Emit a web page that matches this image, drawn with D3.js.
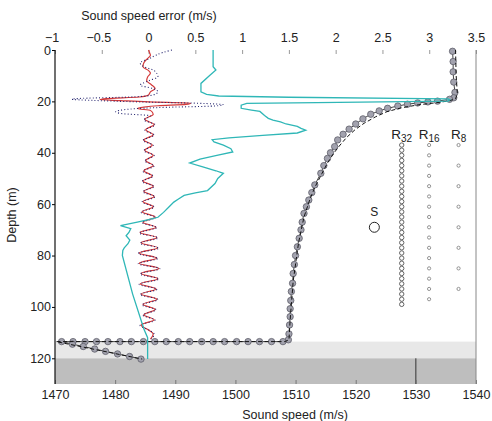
<!doctype html>
<html lang="en">
<head>
  <meta charset="UTF-8">
  <title>Sound speed profile</title>
  <script src="https://cdn.jsdelivr.net/npm/d3@7"></script>
  <style>
    body { margin: 0; background: #fff; }
    svg { font-family: "Liberation Sans", Arial, sans-serif; }
    .tick text { font-size: 12.5px; fill: #222; }
  </style>
</head>
<body>
<div id="chart"></div>
<script>
  // axis ticks
  var speedTicks = [1470, 1480, 1490, 1500, 1510, 1520, 1530, 1540];
  var errTicks   = [-1, -0.5, 0, 0.5, 1, 1.5, 2, 2.5, 3, 3.5];
  var depthTicks = [0, 20, 40, 60, 80, 100, 120];

  // layers (depth, m)
  var sedimentTop = 113.5, basementTop = 120, maxDepth = 130;
  var basementSpeed = 1530;

  // estimated profile [depth, speed] (circles)
  var estProfile = [
    [0.5,1536.1],[4.5,1536.2],[8.5,1536.2],[12.5,1536.3],[16.5,1536.5],[18.6,1536.3],
    [19.2,1535.6],[19.9,1533.6],[20.2,1532.0],[20.6,1530.3],[21.1,1528.6],[21.8,1527.0],
    [22.7,1525.3],[23.7,1523.9],[25.0,1522.5],[26.8,1521.2],[28.8,1520.0],[30.8,1518.9],
    [32.8,1517.9],[35.0,1517.0],[37.6,1516.5],[40.0,1515.8],[42.2,1515.3],[45.0,1514.7],
    [48.0,1514.2],[52.5,1513.2],[55.5,1512.7],[58.4,1512.2],[61.0,1511.8],[63.6,1511.4],
    [67.0,1511.1],[70.0,1510.9],[73.3,1510.6],[76.6,1510.3],[80.0,1510.0],[83.5,1509.8],
    [87.0,1509.6],[90.8,1509.5],[94.0,1509.3],[97.5,1509.2],[100.7,1509.1],[103.8,1509.1],
    [107.0,1509.0],[110.5,1508.9],[112.8,1508.8],
    [113.5,1507.9],[113.5,1506.0],[113.5,1504.0],[113.5,1502.1],[113.5,1500.2],[113.5,1498.2],
    [113.5,1496.3],[113.5,1494.4],[113.5,1492.4],[113.5,1490.5],[113.5,1488.5],[113.5,1486.6],
    [113.5,1484.7],[113.5,1482.7],[113.5,1480.8],[113.5,1478.8],[113.5,1476.9],[113.5,1475.0],
    [113.5,1473.0],[113.5,1471.1],
    [114.5,1472.9],[115.4,1474.7],[116.4,1476.6],[117.3,1478.4],[118.3,1480.4],[119.3,1482.4],
    [120.3,1484.3]
  ];

  // true profile [depth, speed] (dashed)
  var trueProfile = [
    [0,1536.6],[10,1536.7],[17,1536.9],[19,1536.6],[19.8,1535.5],[20.5,1533.5],[21.3,1530.5],
    [22.5,1527.6],[24,1525.2],[26,1523.3],[28.5,1521.4],[31,1519.9],[34,1518.5],[37,1517.4],
    [40,1516.4],[44,1515.3],[48,1514.4],[53,1513.3],[58,1512.4],[65,1511.4],[75,1510.5],
    [90,1509.6],[105,1509.1],[112.8,1508.9],[113.5,1508.2],[113.5,1470.2],[120.3,1484.5]
  ];

  // cyan curve [depth, value on error axis]
  var cyanCurve = [
    [0,0.69],[6.5,0.69],[7.8,0.72],[10,0.65],[13,0.56],[16.3,0.56],[17.3,0.62],[17.9,0.75],
    [18.4,1.5],[19.0,3.2],[19.4,3.22],[19.9,3.2],[20.5,1.8],[20.8,1.05],[21.5,0.99],[22.7,0.99],
    [23.4,1.1],[23.9,1.19],[25.5,1.24],[26.6,1.28],[27.3,1.33],[28,1.41],[28.8,1.47],[29.7,1.59],
    [30.5,1.63],[31.2,1.68],[32.3,1.59],[33.2,1.22],[34.2,0.86],[34.9,0.68],[35.8,0.70],[37,0.80],
    [38.4,0.88],[39.7,0.90],[41,0.73],[42.5,0.55],[44,0.44],[45.5,0.58],[47,0.72],[48,0.80],
    [50,0.74],[52,0.71],[54.7,0.63],[55.6,0.50],[56.6,0.38],[58,0.32],[59.2,0.27],[61,0.22],
    [63.2,0.16],[65.1,0.10],[66,0.0],[67,-0.12],[68.4,-0.30],[69.5,-0.19],[71,-0.21],[72.3,-0.24],
    [74,-0.20],[75.4,-0.22],[77,-0.26],[78,-0.275],[80,-0.28],[95,-0.17],[108.6,-0.05],
    [112,-0.01],[120.3,-0.01]
  ];

  // red error curve [depth, error]
  var redErr = [
    [0,0.0],[1,0.01],[2,0.02],[3,0.0],[4,-0.03],[5,-0.05],[6.5,-0.06],[8,0.0],[9,0.02],
    [10.5,-0.01],[12,-0.02],[13.5,0.03],[15,0.07],[16.3,0.02],[17.5,0.0],[18.3,-0.1],
    [18.9,-0.45],[19.3,-0.52],[19.7,-0.3],[20.2,0.0],[20.7,0.45],[21.2,0.4],[21.7,0.1],
    [22.2,-0.05],[22.8,-0.12],[23.5,0.02],[25,0.05],[27,-0.04],[29,0.06],[31,-0.03],
    [33,0.05],[35,-0.05],[37,0.04],[39,-0.04],[41,0.05],[43,-0.03],[45,0.05],[47,-0.05],
    [49,0.04],[51,-0.06],[53,0.05],[55,-0.05],[57,0.06],[59,-0.06],[61,0.05],[63,-0.07],
    [65,0.07],[67,-0.06],[69,0.08],[71,-0.09],[73,0.09],[75,-0.08],[77,0.1],[79,-0.1],
    [81,0.09],[83,-0.1],[85,0.11],[87,-0.08],[89,0.1],[91,-0.09],[93,0.08],[95,-0.08],
    [97,0.09],[99,-0.06],[101,0.07],[103,-0.05],[105,0.06],[107,-0.08],[109,0.0],
    [110.5,0.05],[112.5,0.02]
  ];

  // blue dotted error curve [depth, error]
  var blueErr = [
    [0,0.25],[1,0.15],[2,0.08],[3.5,0.0],[5,-0.09],[6.5,-0.05],[8,0.06],[10.4,0.1],[12,0.0],
    [13.7,-0.09],[15,0.05],[16.3,0.1],[17.5,0.05],[18.3,-0.2],[18.8,-0.7],[19.2,-0.82],
    [19.6,-0.6],[20.2,-0.1],[20.7,0.5],[21.3,0.8],[21.8,0.7],[22.3,0.2],[23,-0.2],[24,-0.35],
    [24.7,-0.3],[25.6,0.02],[27.2,-0.05],[29.1,0.07],[31.2,-0.04],[33.1,0.06],[35.2,-0.06],
    [37.1,0.05],[39.2,-0.05],[41.1,0.06],[43.2,-0.04],[45.1,0.06],[47.2,-0.06],[49.1,0.05],
    [51.2,-0.07],[53.1,0.06],[55.2,-0.06],[57.1,0.07],[59.2,-0.07],[61.1,0.06],[63.2,-0.08],
    [65.1,0.08],[67.2,-0.07],[69.1,0.09],[71.2,-0.1],[73.1,0.1],[75.2,-0.09],[77.1,0.11],
    [79.2,-0.11],[81.1,0.1],[83.2,-0.11],[85.1,0.12],[87.2,-0.09],[89.1,0.11],[91.2,-0.1],
    [93.1,0.09],[95.2,-0.09],[97.1,0.1],[99.2,-0.07],[101.1,0.08],[103.2,-0.06],[105.1,0.07],
    [107.2,-0.09],[109.1,0.01],[110.6,0.06],[112.5,0.03]
  ];

  // receiver arrays: depths (m)
  var r32Depths = [37,39,41,43,45,47,49,51,53,55,57,59,61,63,65,67,69,71,73,75,77,79,81,83,85,87,89,91,93,95,97,99];
  var r16Depths = [37,41,45,49,53,57,61,65,69,73,77,81,85,89,93,97];
  var r8Depths  = [37,45,53,61,69,77,85,93];
  var arrays = [
    {name: "R", sub: "32", speed: 1527.65, depths: r32Depths},
    {name: "R", sub: "16", speed: 1532.2,  depths: r16Depths},
    {name: "R", sub: "8",  speed: 1537.1,  depths: r8Depths}
  ];
  var source = {label: "S", speed: 1523.1, depth: 69.0, labelDepth: 62.8};

  var width = 492, height = 421;
  var plotL = 55, plotR = 476, plotT = 50, plotB = 384;

  var xSpeed = d3.scaleLinear().domain([1470, 1540]).range([plotL, plotR]);
  var xErr   = d3.scaleLinear().domain([-1, 3.5]).range([plotL, plotR]);
  var y      = d3.scaleLinear().domain([0, maxDepth]).range([plotT, plotB]);

  var svg = d3.select("#chart").append("svg")
      .attr("width", width)
      .attr("height", height);

  // seabed layers
  svg.append("rect")
      .attr("x", plotL).attr("width", plotR - plotL)
      .attr("y", y(sedimentTop)).attr("height", y(basementTop) - y(sedimentTop))
      .attr("fill", "#e8e8e8");
  svg.append("rect")
      .attr("x", plotL).attr("width", plotR - plotL)
      .attr("y", y(basementTop)).attr("height", y(maxDepth) - y(basementTop))
      .attr("fill", "#bebebe");
  svg.append("line")
      .attr("x1", xSpeed(basementSpeed)).attr("x2", xSpeed(basementSpeed))
      .attr("y1", y(basementTop)).attr("y2", y(maxDepth))
      .attr("stroke", "#333").attr("stroke-width", 1);

  // axes
  var bottomAxis = d3.axisBottom(xSpeed).tickValues(speedTicks)
      .tickFormat(d3.format("d")).tickSize(-4).tickPadding(6);
  var gb = svg.append("g").attr("transform", "translate(0," + plotB + ")").call(bottomAxis);
  gb.select(".domain").remove();
  gb.selectAll(".tick line").attr("stroke", "#777");

  var topAxis = d3.axisTop(xErr).tickValues(errTicks)
      .tickFormat(function(d) { return d < 0 ? "\u2212" + Math.abs(d) : d; })
      .tickSize(-4).tickPadding(8);
  var gt = svg.append("g").attr("transform", "translate(0," + plotT + ")").call(topAxis);
  gt.select(".domain").remove();
  gt.selectAll(".tick line").attr("stroke", "#999");
  gt.selectAll(".tick text").attr("dx", function(d) { return d < 0 ? -3.5 : 0; });

  var leftAxis = d3.axisLeft(y).tickValues(depthTicks).tickSize(3).tickPadding(1);
  var gl = svg.append("g").attr("transform", "translate(" + plotL + ",0)").call(leftAxis);
  gl.select(".domain").remove();

  svg.append("line")
      .attr("x1", plotL).attr("x2", plotL).attr("y1", plotT).attr("y2", plotB)
      .attr("stroke", "#111").attr("stroke-width", 1.2);
  svg.append("line")
      .attr("x1", plotR).attr("x2", plotR).attr("y1", plotT).attr("y2", plotB)
      .attr("stroke", "#888").attr("stroke-width", 1);

  // axis titles
  svg.append("text").attr("x", 149).attr("y", 20)
      .attr("text-anchor", "middle").style("font-size", "12.5px").attr("fill", "#222")
      .text("Sound speed error (m/s)");
  svg.append("text").attr("x", 295).attr("y", 419)
      .attr("text-anchor", "middle").style("font-size", "12.5px").attr("fill", "#222")
      .text("Sound speed (m/s)");
  svg.append("text")
      .attr("transform", "translate(16,215) rotate(-90)")
      .attr("text-anchor", "middle").style("font-size", "12.5px").attr("fill", "#222")
      .text("Depth (m)");

  var errLine = d3.line().x(function(d) { return xErr(d[1]); }).y(function(d) { return y(d[0]); });
  var errSmooth = d3.line().curve(d3.curveMonotoneY)
      .x(function(d) { return xErr(d[1]); }).y(function(d) { return y(d[0]); });
  var speedLine = d3.line().x(function(d) { return xSpeed(d[1]); }).y(function(d) { return y(d[0]); });

  // error curves
  svg.append("path").datum(redErr)
      .attr("d", errSmooth).attr("fill", "none")
      .attr("stroke", "#d43a3a").attr("stroke-width", 1.2);
  svg.append("path").datum(blueErr)
      .attr("d", errSmooth).attr("fill", "none")
      .attr("stroke", "#23236e").attr("stroke-width", 1.1)
      .attr("stroke-dasharray", "1,2.2");

  // sound speed profiles
  svg.append("path").datum(estProfile)
      .attr("d", speedLine).attr("fill", "none")
      .attr("stroke", "#444").attr("stroke-width", 1);
  svg.selectAll("circle.est").data(estProfile).enter().append("circle")
      .attr("class", "est")
      .attr("cx", function(d) { return xSpeed(d[1]); })
      .attr("cy", function(d) { return y(d[0]); })
      .attr("r", 3.2)
      .attr("fill", "#a2a2ae").attr("stroke", "#5e5e6a").attr("stroke-width", 0.8);
  svg.append("path").datum(trueProfile)
      .attr("d", speedLine).attr("fill", "none")
      .attr("stroke", "#111").attr("stroke-width", 1)
      .attr("stroke-dasharray", "4,2.5");

  // cyan curve on top
  svg.append("path").datum(cyanCurve)
      .attr("d", errLine).attr("fill", "none")
      .attr("stroke", "#2fb7b7").attr("stroke-width", 1.3);

  // receiver arrays
  arrays.forEach(function(a, i) {
    var cx = xSpeed(a.speed);
    svg.selectAll("circle.r" + i).data(a.depths).enter().append("circle")
        .attr("class", "r" + i)
        .attr("cx", cx)
        .attr("cy", function(d) { return y(d); })
        .attr("r", i === 0 ? 2.2 : 1.6)
        .attr("fill", "#fff")
        .attr("stroke", i === 0 ? "#555" : "#888")
        .attr("stroke-width", 0.9);
    var t = svg.append("text")
        .attr("x", cx).attr("y", y(34.5))
        .attr("text-anchor", "middle").attr("fill", "#222")
        .style("font-size", "13.5px");
    t.append("tspan").text(a.name);
    t.append("tspan").attr("dy", 3).style("font-size", "10px").text(a.sub);
  });

  // source
  svg.append("text")
      .attr("x", xSpeed(source.speed)).attr("y", y(source.labelDepth) + 4.5)
      .attr("text-anchor", "middle").attr("fill", "#222")
      .style("font-size", "12px").text(source.label);
  svg.append("circle")
      .attr("cx", xSpeed(source.speed)).attr("cy", y(source.depth)).attr("r", 5)
      .attr("fill", "none").attr("stroke", "#222").attr("stroke-width", 1);
</script>
</body>
</html>
